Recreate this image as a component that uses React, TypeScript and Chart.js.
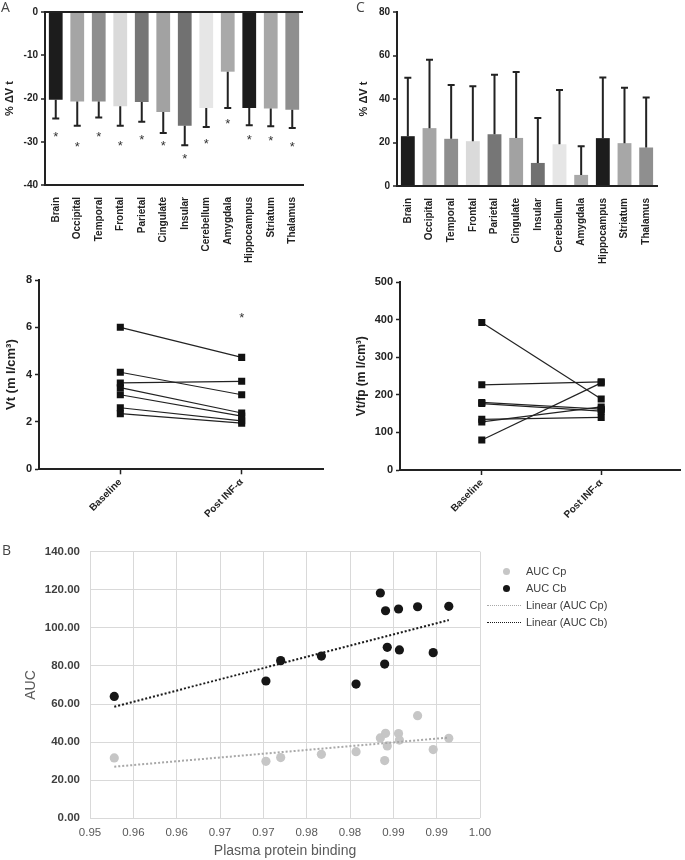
import React, { useEffect, useRef } from 'react';
import { Chart, registerables } from 'chart.js';
Chart.register(...registerables);

const FONT = "'Liberation Sans', Arial, Helvetica, sans-serif";
const INK = '#222222';

// ---- Panel A / C data ----
const regions = ['Brain', 'Occipital', 'Temporal', 'Frontal', 'Parietal', 'Cingulate', 'Insular', 'Cerebellum', 'Amygdala', 'Hippocampus', 'Striatum', 'Thalamus'];
const regionColors = ['#1c1c1c', '#a5a5a5', '#8e8e8e', '#dadada', '#767676', '#a2a2a2', '#717171', '#e6e6e6', '#a9a9a9', '#1c1c1c', '#a7a7a7', '#8f8f8f'];
const aValues = [-20.3, -20.7, -20.7, -21.8, -20.8, -23.1, -26.3, -22.2, -13.8, -22.2, -22.3, -22.6];
const aErrEnds = [-24.6, -26.3, -24.4, -26.3, -25.4, -28.0, -30.8, -26.6, -22.2, -26.2, -26.4, -26.8];
const aStars = [-28.0, -30.3, -28.0, -30.2, -28.8, -30.2, -33.2, -29.7, -25.2, -28.8, -29.0, -30.3];
const cValues = [22.9, 26.6, 21.7, 20.6, 23.8, 22.1, 10.6, 19.2, 5.1, 22.0, 19.7, 17.7];
const cErrEnds = [49.8, 58.1, 46.4, 45.9, 51.2, 52.4, 31.3, 44.1, 18.3, 49.9, 45.2, 40.7];

// ---- Paired data ----
const pairLabels = ['Baseline', 'Post INF-α'];
const pairPositions = [1, 2];
const vtBaseline = [6.0, 4.1, 3.65, 3.45, 3.15, 2.6, 2.35];
const vtPost = [4.73, 3.15, 3.72, 2.38, 2.25, 2.05, 1.95];
const vtStar = 6.55;
const vtfpBaseline = [393, 227, 80, 180, 177, 135, 128];
const vtfpPost = [189, 235, 232, 162, 157, 140, 168];

// ---- Panel B data ----
const bindingX = [0.9528, 0.9703, 0.972, 0.9767, 0.9807, 0.9835, 0.9841, 0.9843, 0.984, 0.9856, 0.9857, 0.9878, 0.9896, 0.9914];
const aucCp = [31.7, 29.9, 31.9, 33.6, 35.0, 42.2, 44.6, 38.0, 30.3, 44.5, 41.1, 53.9, 36.1, 42.0];
const aucCb = [64.0, 72.1, 82.8, 85.2, 70.5, 118.3, 109.0, 89.8, 81.0, 109.9, 88.4, 111.1, 87.0, 111.3];
const trendX = [0.9528, 0.9914];
const trendCp = [27.1, 42.4];
const trendCb = [58.6, 104.1];
const bXTickLabels = ['0.95', '0.96', '0.96', '0.97', '0.97', '0.98', '0.98', '0.99', '0.99', '1.00'];

const fixedWidth = (w: number) => (s: any) => { s.width = w; };
const fixedHeight = (h: number) => (s: any) => { s.height = h; };

const errStarPlugin = (vals: number[], ends: number[], stars?: number[]) => ({
  id: 'errStars',
  afterDatasetsDraw(chart: any) {
    const { ctx, scales: { x, y } } = chart;
    ctx.save();
    ctx.strokeStyle = INK;
    ctx.lineWidth = 2;
    vals.forEach((v, i) => {
      const px = x.getPixelForValue(i);
      const y0 = y.getPixelForValue(v);
      const y1 = y.getPixelForValue(ends[i]);
      ctx.beginPath();
      ctx.moveTo(px, y0);
      ctx.lineTo(px, y1);
      ctx.moveTo(px - 3.5, y1);
      ctx.lineTo(px + 3.5, y1);
      ctx.stroke();
    });
    if (stars) {
      ctx.fillStyle = '#333';
      ctx.font = `13px ${FONT}`;
      ctx.textAlign = 'center';
      ctx.textBaseline = 'alphabetic';
      stars.forEach((s, i) => {
        ctx.fillText('*', x.getPixelForValue(i), y.getPixelForValue(s) + 7.5);
      });
    }
    ctx.restore();
  },
});

const starPlugin = (xv: number, yv: number) => ({
  id: 'pairStar',
  afterDatasetsDraw(chart: any) {
    const { ctx, scales: { x, y } } = chart;
    ctx.save();
    ctx.fillStyle = '#333';
    ctx.font = `13px ${FONT}`;
    ctx.textAlign = 'center';
    ctx.textBaseline = 'alphabetic';
    ctx.fillText('*', x.getPixelForValue(xv), y.getPixelForValue(yv) + 7.5);
    ctx.restore();
  },
});

const tickFont = (size: number) => ({ family: FONT, size, weight: 'bold' as const });

function barChart(canvas: HTMLCanvasElement, values: number[], ends: number[], stars: number[] | undefined, min: number, max: number, step: number, geo: any) {
  return new Chart(canvas, {
    type: 'bar',
    data: {
      labels: regions,
      datasets: [{ data: values, backgroundColor: regionColors, borderWidth: 0, barPercentage: 0.64, categoryPercentage: 1 }],
    },
    options: {
      animation: false,
      responsive: false,
      events: [],
      layout: { padding: { top: geo.top, right: geo.right, left: 0, bottom: 0 } },
      plugins: { legend: { display: false }, tooltip: { enabled: false } },
      scales: {
        x: {
          ticks: { autoSkip: false, minRotation: 90, maxRotation: 90, font: tickFont(10), color: INK, padding: 4 },
          grid: { display: false },
          border: { color: INK, width: 2 },
          afterFit: fixedHeight(geo.xh),
        },
        y: {
          min, max,
          ticks: { stepSize: step, font: tickFont(10), color: INK, padding: 3 },
          grid: {
            drawOnChartArea: true,
            color: (c: any) => (c.tick && c.tick.value === 0 && max === 0 ? INK : 'rgba(0,0,0,0)'),
            lineWidth: 2,
            tickColor: INK,
            tickWidth: 1.5,
            tickLength: 4,
          },
          border: { color: INK, width: 2 },
          title: { display: true, text: '% ΔV t', font: tickFont(11), color: INK, padding: { top: geo.tp, bottom: 0 } },
          afterFit: fixedWidth(geo.yw),
        },
      },
    } as any,
    plugins: [errStarPlugin(values, ends, stars)],
  });
}

function pairChart(canvas: HTMLCanvasElement, base: number[], post: number[], max: number, step: number, title: string, titleSize: number, geo: any, star?: number) {
  return new Chart(canvas, {
    type: 'line',
    data: {
      datasets: base.map((b, i) => ({
        data: [{ x: pairPositions[0], y: b }, { x: pairPositions[1], y: post[i] }],
        borderColor: INK,
        borderWidth: 1.2,
        pointStyle: 'rect',
        pointRadius: 5,
        pointBackgroundColor: '#111',
        pointBorderWidth: 0,
      })),
    },
    options: {
      animation: false,
      responsive: false,
      events: [],
      layout: { padding: { top: geo.top, right: geo.right, left: 0, bottom: 0 } },
      plugins: { legend: { display: false }, tooltip: { enabled: false } },
      scales: {
        x: {
          type: 'linear',
          min: geo.xmin,
          max: geo.xmax,
          afterBuildTicks: (s: any) => { s.ticks = pairPositions.map((v) => ({ value: v })); },
          ticks: { callback: (_v: any, i: number) => pairLabels[i], autoSkip: false, minRotation: 45, maxRotation: 45, font: tickFont(10), color: INK, padding: 2 },
          grid: { drawOnChartArea: false, tickLength: 5, tickColor: INK, tickWidth: 1.5 },
          border: { color: INK, width: 2 },
          afterFit: fixedHeight(geo.xh),
        },
        y: {
          min: 0, max,
          ticks: { stepSize: step, font: tickFont(11), color: INK, padding: 3 },
          grid: { drawOnChartArea: false, tickLength: 4, tickColor: INK, tickWidth: 1.5 },
          border: { color: INK, width: 2 },
          title: { display: true, text: title, font: tickFont(titleSize), color: INK, padding: { top: geo.tp, bottom: 0 } },
          afterFit: fixedWidth(geo.yw),
        },
      },
    } as any,
    plugins: star !== undefined ? [starPlugin(pairPositions[1], star)] : [],
  });
}

function scatterChart(canvas: HTMLCanvasElement) {
  const pts = (ys: number[]) => bindingX.map((x, i) => ({ x, y: ys[i] }));
  const line = (ys: number[]) => trendX.map((x, i) => ({ x, y: ys[i] }));
  return new Chart(canvas, {
    type: 'scatter',
    data: {
      datasets: [
        { label: 'Linear (AUC Cb)', data: line(trendCb), showLine: true, borderColor: '#1a1a1a', borderWidth: 2, borderDash: [2, 2], pointRadius: 0 },
        { label: 'Linear (AUC Cp)', data: line(trendCp), showLine: true, borderColor: '#a8a8a8', borderWidth: 2, borderDash: [2, 2], pointRadius: 0 },
        { label: 'AUC Cb', data: pts(aucCb), pointRadius: 4.6, backgroundColor: '#161616', borderWidth: 0 },
        { label: 'AUC Cp', data: pts(aucCp), pointRadius: 4.6, backgroundColor: '#c6c6c6', borderWidth: 0 },
      ],
    },
    options: {
      animation: false,
      responsive: false,
      events: [],
      layout: { padding: { top: 21.7, right: 205, left: 0, bottom: 0 } },
      plugins: { legend: { display: false }, tooltip: { enabled: false } },
      scales: {
        x: {
          type: 'linear',
          min: 0.95,
          max: 0.995,
          ticks: { stepSize: 0.005, callback: (_v: any, i: number) => bXTickLabels[i], font: { family: FONT, size: 11.5 }, color: '#595959', padding: 8 },
          grid: { color: '#d9d9d9', drawTicks: false },
          border: { display: false },
          title: { display: true, text: 'Plasma protein binding', font: { family: FONT, size: 14 }, color: '#595959', padding: { top: 0, bottom: 0 } },
          afterFit: fixedHeight(41.7),
        },
        y: {
          min: 0,
          max: 140,
          ticks: { stepSize: 20, callback: (v: any) => Number(v).toFixed(2), font: { family: FONT, size: 11.5, weight: 'bold' }, color: '#404040', padding: 10 },
          grid: { color: '#d9d9d9', drawTicks: false },
          border: { display: false },
          title: { display: true, text: 'AUC', font: { family: FONT, size: 14 }, color: '#595959', padding: { top: 23, bottom: 0 } },
          afterFit: fixedWidth(90),
        },
      },
    } as any,
  });
}

const legendItems = [
  { label: 'AUC Cp', kind: 'dot', color: '#c6c6c6' },
  { label: 'AUC Cb', kind: 'dot', color: '#161616' },
  { label: 'Linear (AUC Cp)', kind: 'line', color: '#a8a8a8' },
  { label: 'Linear (AUC Cb)', kind: 'line', color: '#1a1a1a' },
];

export default function App() {
  const aRef = useRef<HTMLCanvasElement>(null);
  const cRef = useRef<HTMLCanvasElement>(null);
  const vtRef = useRef<HTMLCanvasElement>(null);
  const fpRef = useRef<HTMLCanvasElement>(null);
  const bRef = useRef<HTMLCanvasElement>(null);

  useEffect(() => {
    const charts = [
      barChart(aRef.current!, aValues, aErrEnds, aStars, -40, 0, 10, { top: 12, right: 17, xh: 87, yw: 45, tp: 3 }),
      barChart(cRef.current!, cValues, cErrEnds, undefined, 0, 80, 20, { top: 12, right: 28, xh: 86, yw: 57, tp: 17 }),
      pairChart(vtRef.current!, vtBaseline, vtPost, 8, 2, 'Vt (m l/cm³)', 13, { top: 18, right: 17, xh: 60.7, yw: 39, tp: 4, xmin: 0.33, xmax: 2.67 }, vtStar),
      pairChart(fpRef.current!, vtfpBaseline, vtfpPost, 500, 100, 'Vt/fp (m l/cm³)', 12, { top: 20.3, right: 2, xh: 60, yw: 60, tp: 14.5, xmin: 0.315, xmax: 2.66 }),
      scatterChart(bRef.current!),
    ];
    return () => charts.forEach((c) => c.destroy());
  }, []);

  const cv = (ref: any, left: number, top: number, w: number, h: number) => (
    <canvas ref={ref} width={w} height={h} style={{ position: 'absolute', left, top, width: w, height: h }} />
  );
  const letter = (t: string, left: number, top: number) => (
    <div style={{ position: 'absolute', left, top, fontFamily: "'Open Sans', sans-serif", fontWeight: 400, fontSize: 14, color: '#444', lineHeight: '15px' }}>{t}</div>
  );

  return (
    <div style={{ position: 'fixed', left: 0, top: 0, width: 685, height: 860, background: '#fff', overflow: 'hidden' }}>
      {cv(aRef, 0, 0, 320, 272)}
      {cv(cRef, 340, 0, 345, 272)}
      {cv(vtRef, 0, 262, 340, 268)}
      {cv(fpRef, 340, 262, 345, 268)}
      {cv(bRef, 0, 530, 685, 330)}
      {letter('A', 1, -1)}
      {letter('C', 356, -1)}
      {letter('B', 2, 542)}
      {legendItems.map((it, i) => (
        <div key={it.label} style={{ position: 'absolute', left: 486, top: 563 + i * 17, height: 16, display: 'flex', alignItems: 'center', fontFamily: FONT, fontSize: 11, color: '#404040' }}>
          <div style={{ width: 36, display: 'flex', justifyContent: 'center', alignItems: 'center' }}>
            {it.kind === 'dot' ? (
              <div style={{ width: 7, height: 7, borderRadius: '50%', background: it.color, marginLeft: 5 }} />
            ) : (
              <div style={{ width: 34, borderTop: `1.5px dotted ${it.color}` }} />
            )}
          </div>
          <span style={{ marginLeft: 4 }}>{it.label}</span>
        </div>
      ))}
    </div>
  );
}
